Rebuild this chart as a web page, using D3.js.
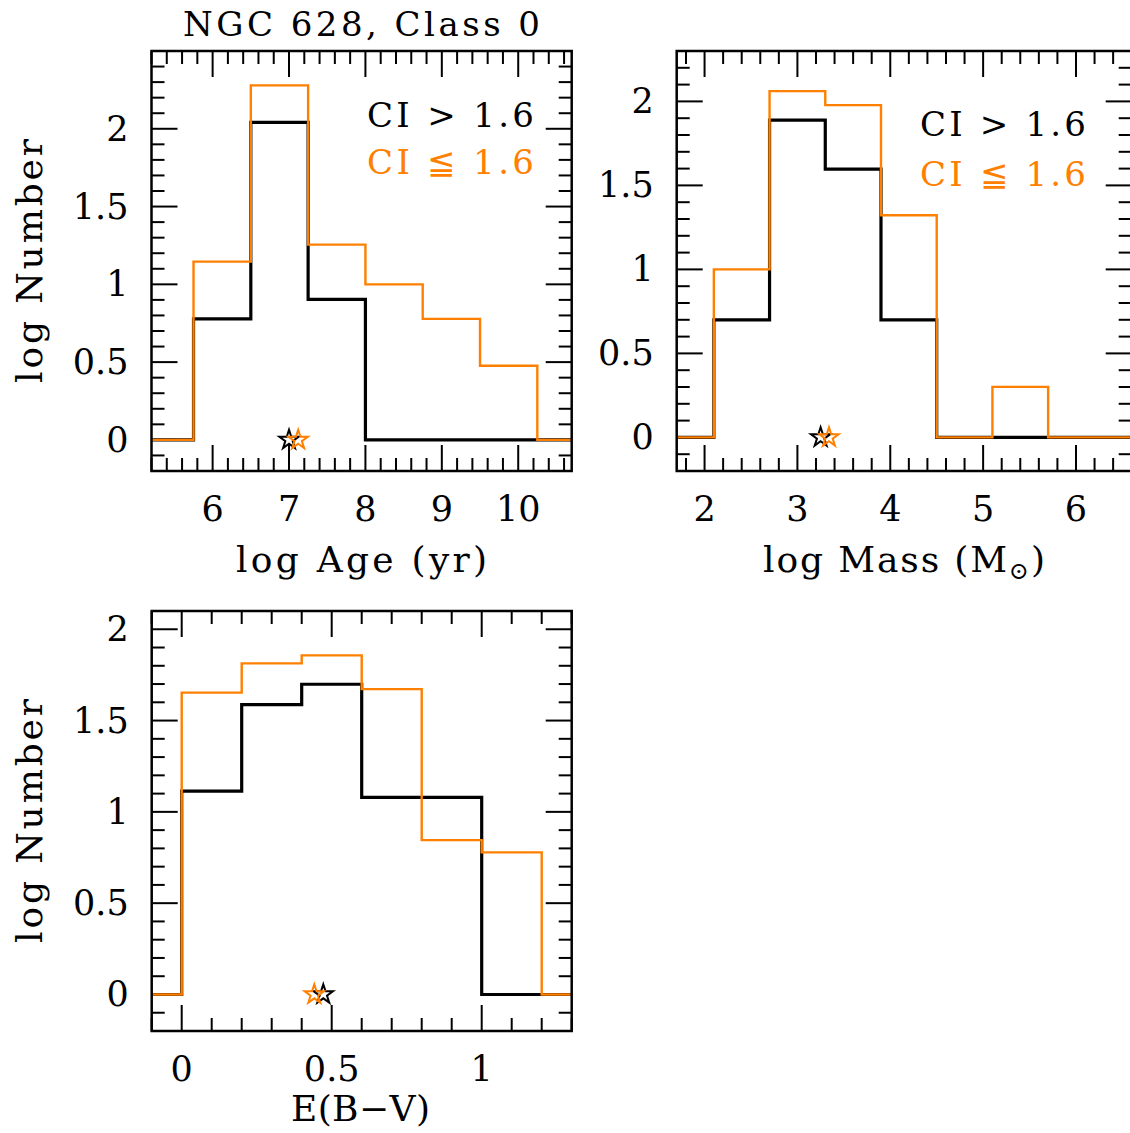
<!DOCTYPE html>
<html>
<head>
<meta charset="utf-8">
<script src="https://cdn.jsdelivr.net/npm/d3@7"></script>
<style>
	body { margin: 0; background: #fff; }
	svg { display: block; }
</style>
</head>
<body>
<svg id="chart" width="1130" height="1133"></svg>
<script>
// bin edges and log counts
var ageEdges = [5.75, 6.5, 7.25, 8.0, 8.75, 9.5, 10.25];
var ageHigh = [0.778, 2.041, 0.903, 0, 0, 0];
var ageLow = [1.146, 2.279, 1.255, 1.0, 0.778, 0.477];
var ageStars = [7.0, 7.12];

var massEdges = [2.1, 2.7, 3.3, 3.9, 4.5, 5.1, 5.7];
var massHigh = [0.699, 1.889, 1.597, 0.699, 0, 0];
var massLow = [1.0, 2.061, 1.978, 1.322, 0, 0.301];
var massStars = [3.25, 3.34];

var ebvEdges = [0, 0.2, 0.4, 0.6, 0.8, 1.0, 1.2];
var ebvHigh = [1.114, 1.587, 1.699, 1.079, 1.079, 0];
var ebvLow = [1.653, 1.813, 1.857, 1.672, 0.845, 0.778];
var ebvStars = [0.472, 0.442];

var ageTicks = [6, 7, 8, 9, 10];
var massTicks = [2, 3, 4, 5, 6];
var ebvTicks = [0, 0.5, 1];
var numTicks = [0, 0.5, 1, 1.5, 2];

var seriesLabels = ["CI > 1.6", "CI \u2266 1.6"];
var colors = ["#000000", "#ff8000"];
var font = "'DejaVu Serif', serif";

var svg = d3.select("#chart");

svg.append("text")
	.attr("x", 361.5).attr("y", 36)
	.attr("text-anchor", "middle")
	.attr("font-family", font).attr("font-size", 34)
	.attr("textLength", 357).attr("lengthAdjust", "spacing")
	.text("NGC 628, Class 0");

function tickRange(d0, d1, step) {
	var a = Math.ceil(d0 / step - 1e-6), b = Math.floor(d1 / step + 1e-6);
	return d3.range(a, b + 1).map(function(i) { return +(i * step).toFixed(6); });
}

function isMajor(v, step) {
	return Math.abs(v / step - Math.round(v / step)) < 1e-6;
}

function drawPanel(p) {
	var x = d3.scaleLinear().domain(p.xDomain).range([p.left, p.right]);
	var y = d3.scaleLinear().domain(p.yDomain).range([p.bottom, p.top]);
	var g = svg.append("g");
	var fmt = d3.format("~g");

	// ticks on all four sides, pointing in
	var ticks = g.append("g").attr("stroke", "#000").attr("stroke-width", 2);
	tickRange(p.xDomain[0], p.xDomain[1], p.xMinor).forEach(function(v) {
		var len = isMajor(v, p.xMajor) ? 26 : 13;
		ticks.append("line").attr("x1", x(v)).attr("x2", x(v)).attr("y1", p.bottom).attr("y2", p.bottom - len);
		ticks.append("line").attr("x1", x(v)).attr("x2", x(v)).attr("y1", p.top).attr("y2", p.top + len);
	});
	tickRange(p.yDomain[0], p.yDomain[1], p.yMinor).forEach(function(v) {
		var len = isMajor(v, p.yMajor) ? 26 : 13;
		ticks.append("line").attr("y1", y(v)).attr("y2", y(v)).attr("x1", p.left).attr("x2", p.left + len);
		ticks.append("line").attr("y1", y(v)).attr("y2", y(v)).attr("x1", p.right).attr("x2", p.right - len);
	});

	// tick labels
	g.append("g").selectAll("text").data(p.xTicks).enter().append("text")
		.attr("x", function(d) { return x(d); })
		.attr("y", p.bottom + 50)
		.attr("text-anchor", "middle")
		.attr("font-family", font).attr("font-size", 35)
		.text(fmt);
	g.append("g").selectAll("text").data(numTicks).enter().append("text")
		.attr("x", p.left - 23)
		.attr("y", function(d) { return y(d) + 12; })
		.attr("text-anchor", "end")
		.attr("font-family", font).attr("font-size", 35)
		.text(fmt);

	// histograms, black first then orange over it
	var line = d3.line()
		.x(function(d) { return x(d[0]); })
		.y(function(d) { return y(d[1]); })
		.curve(d3.curveStepAfter);
	[p.high, p.low].forEach(function(vals, k) {
		var pts = [[p.xDomain[0], 0]];
		vals.forEach(function(v, i) { pts.push([p.edges[i], v]); });
		pts.push([p.edges[p.edges.length - 1], 0]);
		pts.push([p.xDomain[1], 0]);
		g.append("path")
			.attr("d", line(pts))
			.attr("fill", "none")
			.attr("stroke", colors[k])
			.attr("stroke-width", k == 0 ? 3.2 : 2.4);
	});

	// median markers
	var star = d3.symbol().type(d3.symbolStar).size(115);
	p.stars.forEach(function(v, k) {
		g.append("path")
			.attr("d", star())
			.attr("transform", "translate(" + x(v) + "," + y(0) + ")")
			.attr("fill", "none")
			.attr("stroke", colors[k])
			.attr("stroke-width", 2);
	});

	// frame
	g.append("rect")
		.attr("x", p.left).attr("y", p.top)
		.attr("width", p.right - p.left).attr("height", p.bottom - p.top)
		.attr("fill", "none").attr("stroke", "#000").attr("stroke-width", 2.5);

	// axis titles
	var xl = g.append("text")
		.attr("x", (p.xLabelSpan[0] + p.xLabelSpan[1]) / 2)
		.attr("y", p.xLabelY)
		.attr("text-anchor", "middle")
		.attr("font-family", font).attr("font-size", 36)
		.attr("textLength", p.xLabelSpan[1] - p.xLabelSpan[0]).attr("lengthAdjust", "spacing");
	if (p.xLabel == "mass") {
		xl.append("tspan").text("log Mass (M");
		xl.append("tspan").attr("font-size", 24).attr("dy", 7).text("\u2299");
		xl.append("tspan").attr("dy", -7).text(")");
	}
	else {
		xl.text(p.xLabel);
	}

	if (p.yLabel) {
		var cy = (p.top + p.bottom) / 2;
		g.append("text")
			.attr("transform", "translate(42," + cy + ") rotate(-90)")
			.attr("text-anchor", "middle")
			.attr("font-family", font).attr("font-size", 36)
			.attr("textLength", 244).attr("lengthAdjust", "spacing")
			.text("log Number");
	}

	if (p.legend) {
		seriesLabels.forEach(function(label, k) {
			g.append("text")
				.attr("x", p.legend[0]).attr("y", p.legend[1] + k * p.legend[3])
				.attr("font-family", font).attr("font-size", 34)
				.attr("fill", colors[k])
				.attr("textLength", p.legend[2]).attr("lengthAdjust", "spacing")
				.text(label);
		});
	}
}

drawPanel({
	left: 151.5, right: 571.7, top: 51, bottom: 471,
	xDomain: [5.2, 10.7], yDomain: [-0.2, 2.5],
	xMajor: 1, xMinor: 0.2, yMajor: 0.5, yMinor: 0.1,
	xTicks: ageTicks,
	edges: ageEdges, high: ageHigh, low: ageLow, stars: ageStars,
	xLabel: "log Age (yr)", xLabelSpan: [236, 487], xLabelY: 572,
	yLabel: true,
	legend: [367, 127, 167, 47]
});

drawPanel({
	left: 676.7, right: 1131.7, top: 51, bottom: 471,
	xDomain: [1.7, 6.6], yDomain: [-0.2, 2.3],
	xMajor: 1, xMinor: 0.2, yMajor: 0.5, yMinor: 0.1,
	xTicks: massTicks,
	edges: massEdges, high: massHigh, low: massLow, stars: massStars,
	xLabel: "mass", xLabelSpan: [763, 1045], xLabelY: 572,
	yLabel: false,
	legend: [920, 136, 166, 50]
});

drawPanel({
	left: 151.7, right: 571.7, top: 611, bottom: 1031,
	xDomain: [-0.1, 1.3], yDomain: [-0.2, 2.1],
	xMajor: 0.5, xMinor: 0.1, yMajor: 0.5, yMinor: 0.1,
	xTicks: ebvTicks,
	edges: ebvEdges, high: ebvHigh, low: ebvLow, stars: ebvStars,
	xLabel: "E(B\u2212V)", xLabelSpan: [291, 430], xLabelY: 1121,
	yLabel: true,
	legend: null
});
</script>
</body>
</html>
